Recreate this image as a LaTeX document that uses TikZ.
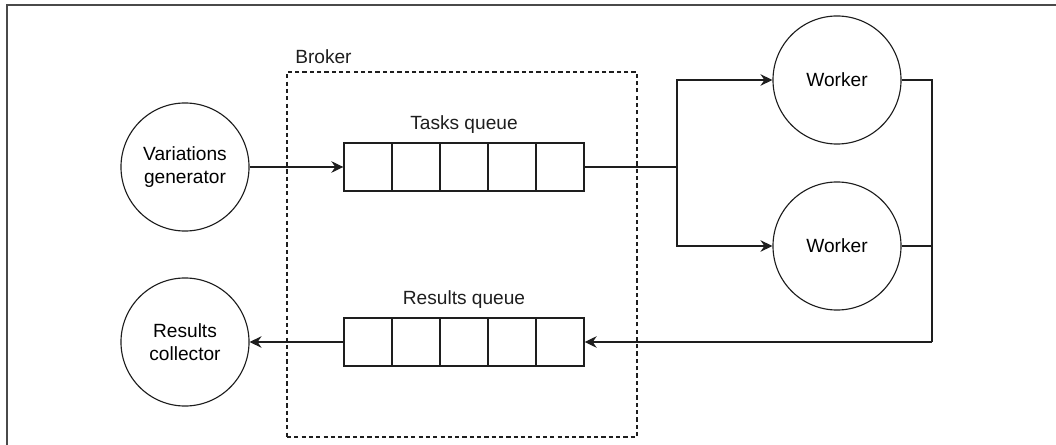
\documentclass[tikz,border=0pt]{standalone}
\usepackage{fontspec}
\setmainfont{Liberation Sans}
\usetikzlibrary{arrows.meta, positioning}
\definecolor{cline}{HTML}{1E1E1E}
\definecolor{cframe}{HTML}{4A4A4A}
\tikzset{
  every picture/.style={line width=0.8pt, x=0.025cm, y=-0.025cm},
  proc/.style={draw=cline, circle, minimum size=3.2cm, align=center, inner sep=0pt, font=\fontsize{13.6}{16}\selectfont},
  cell/.style={draw=cline, minimum size=1.2cm, inner sep=0pt, line width=1pt},
  arrow/.style={-{Stealth[length=3mm, width=2.9mm, inset=1mm]}, draw=cline},
  qname/.style={font=\fontsize{13.6}{16}\selectfont, text=cline},
  broker/.style={draw=cline, dash pattern=on 3pt off 2.2pt, minimum width=8.75cm, minimum height=9.125cm, inner sep=0pt},
}

\begin{document}
\begin{tikzpicture}
  \clip (0,0) rectangle (1056,445);
  % outer frame, cut by the page edge
  \draw[cframe, line width=1.1pt] (7,460) |- (1070,5);
  % broker
  \node[broker] (brk) at (462,254.5) {};
  \node[qname, anchor=west] (blab) at (290,57) {Broker};
  % processes
  \node[proc] (gen) at (185,167) {Variations\\generator};
  \node[proc] (coll) at (185,342) {Results\\collector};
  \node[proc] (w1) at (837,80) {Worker};
  \node[proc] (w2) at (837,246) {Worker};
  % queues
  \foreach \i in {1,...,5} {
    \node[cell] (t\i) at ({320+48*\i},167) {};
    \node[cell] (r\i) at ({320+48*\i},342) {};
  }
  \node[qname] (tlab) at (464,125) {Tasks queue};
  \node[qname] (rlab) at (464,300) {Results queue};
  % connectors
  \coordinate (split) at (677,167);
  \coordinate (join) at (932,342);
  \draw[arrow] (gen) -- (t1);
  \draw[cline] (t5) -- (split);
  \draw[arrow] (split) |- (w1);
  \draw[arrow] (split) |- (w2);
  \draw[cline] (w1) -| (join);
  \draw[cline] (w2) -- (w2 -| join);
  \draw[arrow] (join) -- (r5);
  \draw[arrow] (r1) -- (coll);
\end{tikzpicture}
\end{document}
